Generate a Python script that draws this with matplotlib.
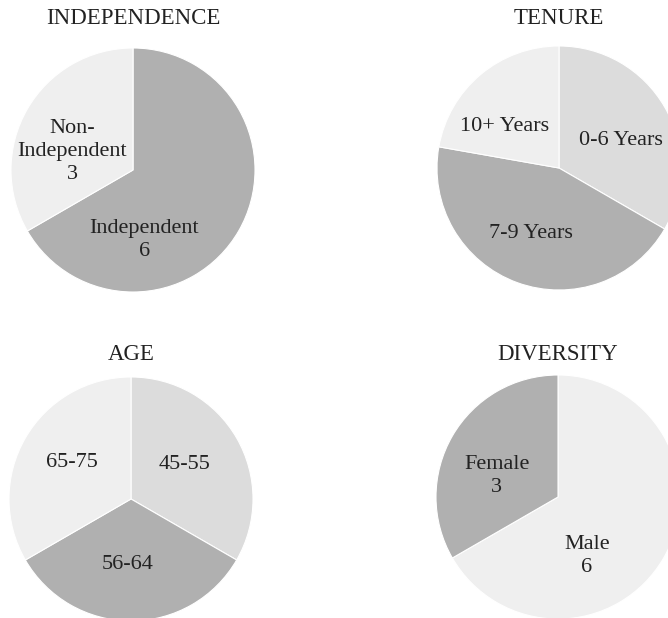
import matplotlib
matplotlib.use("Agg")
from matplotlib import pyplot as plt
import numpy as np

plt.rcParams['font.family'] = ['Liberation Serif', 'DejaVu Serif']

# Board composition, 9 directors
indep_labels = ["Independent\n6", "Non-\nIndependent\n3"]
indep_values = [6, 3]

tenure_labels = ["0-6 Years", "7-9 Years", "10+ Years"]
tenure_values = [3, 4, 2]

age_labels = ["45-55", "56-64", "65-75"]
age_values = [3, 3, 3]

div_labels = ["Male\n6", "Female\n3"]
div_values = [6, 3]

DARK = "#b0b0b0"
MID = "#dcdcdc"
LIGHT = "#efefef"

W, H = 668, 618
R = 122  # pie radius in pixels

# (title, labels, values, colours, centre px, title y px, label polar positions (deg, frac))
charts = [
    ("INDEPENDENCE", indep_labels, indep_values, [DARK, LIGHT],
     (133, 170), 18, [(-81, 0.58), (163, 0.52)]),
    ("TENURE", tenure_labels, tenure_values, [MID, DARK, LIGHT],
     (559, 168), 18, [(24, 0.56), (-113, 0.58), (143, 0.56)]),
    ("AGE", age_labels, age_values, [MID, DARK, LIGHT],
     (131, 499), 354, [(33, 0.52), (-93, 0.54), (148, 0.57)]),
    ("DIVERSITY", div_labels, div_values, [LIGHT, DARK],
     (558, 497), 354, [(-64, 0.54), (161, 0.53)]),
]

fig = plt.figure(figsize=(W / 100, H / 100), dpi=100)

for title, labels, values, colors, (cx, cy), ty, lpos in charts:
    ax = fig.add_axes([(cx - R) / W, (H - cy - R) / H, 2 * R / W, 2 * R / H])
    wedges, _ = ax.pie(values, colors=colors, startangle=90, counterclock=False,
                       radius=1, wedgeprops=dict(edgecolor="white", linewidth=0.8))
    for w in wedges:
        w.set_clip_on(False)
    for lab, (ang, frac) in zip(labels, lpos):
        a = np.deg2rad(ang)
        ax.text(frac * np.cos(a), frac * np.sin(a), lab, ha="center", va="center",
                fontsize=16, linespacing=1.3, color="#222222", clip_on=False)
    ax.set_xlim(-1, 1)
    ax.set_ylim(-1, 1)
    ax.set_aspect("equal")
    ax.axis("off")
    fig.text(cx / W, (H - ty) / H, title, ha="center", va="center",
             fontsize=16.5, color="#222222")

plt.savefig("out.png", dpi=100)
